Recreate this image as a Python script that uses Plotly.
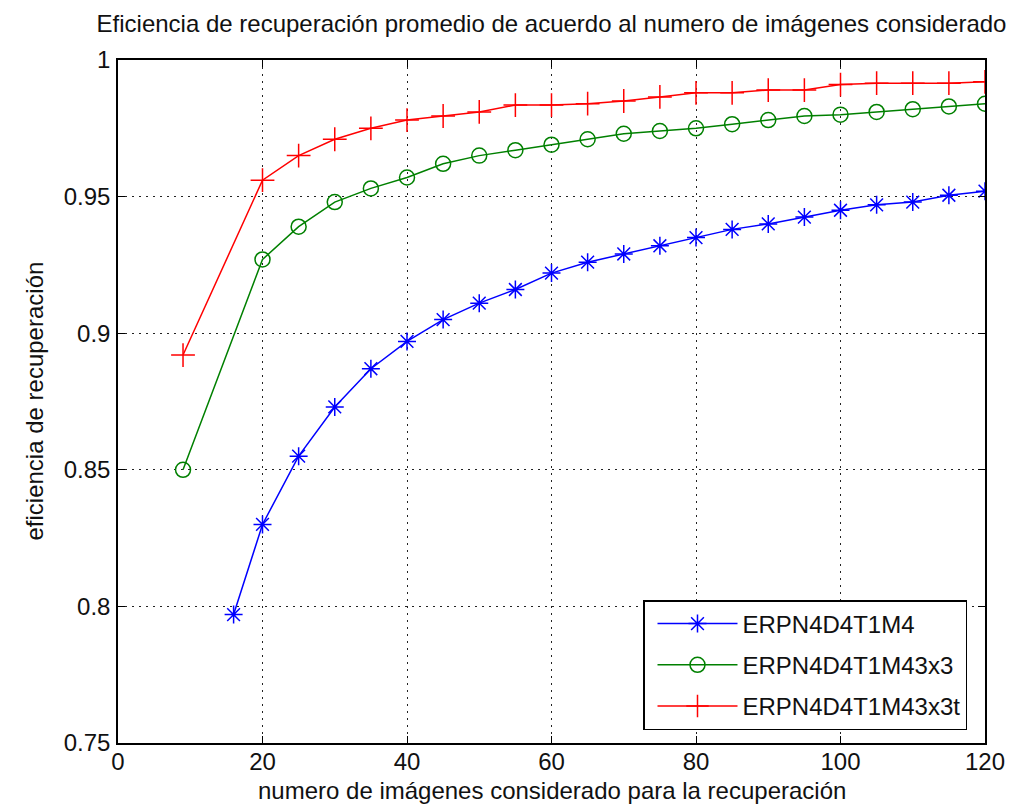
import plotly.graph_objects as go

title_text = "Eficiencia de recuperación promedio de acuerdo al numero de imágenes considerado"
x_label = "numero de imágenes considerado para la recuperación"
y_label = "eficiencia de recuperación"

x_common = [20, 25, 30, 35, 40, 45, 50, 55, 60, 65, 70, 75, 80, 85, 90, 95, 100, 105, 110, 115, 120]

x_blue = [16] + x_common
y_blue = [0.797, 0.830, 0.855, 0.873, 0.887, 0.897, 0.905, 0.911, 0.916, 0.922, 0.926, 0.929,
          0.932, 0.935, 0.938, 0.940, 0.9425, 0.945, 0.947, 0.948, 0.9505, 0.952]

x_green = [9] + x_common
y_green = [0.850, 0.927, 0.939, 0.948, 0.953, 0.957, 0.962, 0.965, 0.967, 0.969, 0.971, 0.973,
           0.974, 0.975, 0.9765, 0.978, 0.9795, 0.980, 0.981, 0.982, 0.983, 0.984]

x_red = [9] + x_common
y_red = [0.892, 0.956, 0.965, 0.971, 0.975, 0.978, 0.9795, 0.981, 0.9835, 0.9835, 0.984, 0.985,
         0.9865, 0.988, 0.988, 0.989, 0.989, 0.991, 0.9915, 0.9915, 0.9915, 0.992]

names = ["ERPN4D4T1M4", "ERPN4D4T1M43x3", "ERPN4D4T1M43x3t"]
colors = ["#0000ff", "#008000", "#ff0000"]
symbols = ["asterisk-open", "circle-open", "cross-thin-open"]
sizes = [15, 15, 17]

x_ticks = [0, 20, 40, 60, 80, 100, 120]
y_ticks = [0.75, 0.8, 0.85, 0.9, 0.95, 1.0]
y_ticktext = ["0.75", "0.8", "0.85", "0.9", "0.95", "1"]

FONT = "Liberation Sans, Arial, Helvetica, sans-serif"

fig = go.Figure()
series = [(x_blue, y_blue), (x_green, y_green), (x_red, y_red)]
for i, (xs, ys) in enumerate(series):
    fig.add_trace(go.Scatter(
        x=xs, y=ys, mode="lines+markers", name=names[i],
        legendgroup=names[i],
        line=dict(color=colors[i], width=1.5),
        marker=dict(symbol=symbols[i], size=sizes[i], color=colors[i],
                    line=dict(color=colors[i], width=1.5)),
    ))

axis_common = dict(
    showline=True, linecolor="black", linewidth=1.5, mirror="ticks",
    ticks="inside", ticklen=7, tickwidth=1.2, tickcolor="black",
    showgrid=True, gridcolor="#222222", gridwidth=1.3, griddash="2px,5px",
    zeroline=False, tickfont=dict(family=FONT, size=24, color="#111111"),
)

fig.update_layout(
    width=1035, height=808,
    margin=dict(l=110, r=58, t=52, b=73),
    paper_bgcolor="white", plot_bgcolor="white",
    font=dict(family=FONT, color="black"),
    title=dict(text=title_text, x=(110 + 977) / 2 / 1035, xanchor="center",
               y=1 - 16 / 808, yanchor="middle", yref="container",
               font=dict(family=FONT, size=24, color="#111111")),
    xaxis=dict(range=[0, 120], tickvals=x_ticks, ticklabelstandoff=-4, **axis_common),
    yaxis=dict(range=[0.75, 1.0], tickvals=y_ticks, ticktext=y_ticktext,
               ticklabelstandoff=1, **axis_common),
    legend=dict(x=(959 - 110) / 867, y=(735 - 722) / 683, xanchor="right", yanchor="bottom",
                bgcolor="white", bordercolor="black", borderwidth=1.5,
                font=dict(family=FONT, size=24, color="#111111"),
                traceorder="grouped", tracegroupgap=7, itemwidth=80, indentation=8),
    showlegend=True,
    annotations=[
        dict(text=x_label, xref="paper", yref="paper", x=0.5, y=-47 / 683,
             xanchor="center", yanchor="middle", showarrow=False,
             font=dict(family=FONT, size=24, color="#111111")),
        dict(text=y_label, xref="paper", yref="paper", x=-84 / 867, y=0.5,
             xanchor="center", yanchor="middle", showarrow=False, textangle=-90,
             font=dict(family=FONT, size=24, color="#111111")),
    ],
)

fig.write_html("out.html")
